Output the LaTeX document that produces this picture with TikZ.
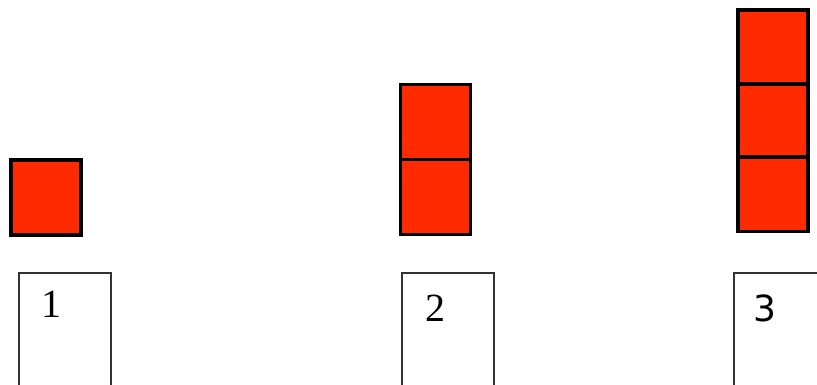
\documentclass[tikz,border=0pt]{standalone}
\usepackage{fontspec}
\setmainfont{Liberation Serif}
\newfontfamily\sansdigit{DejaVu Sans}
\definecolor{tilered}{RGB}{255,42,0}
\begin{document}
\begin{tikzpicture}[x=1pt,y=-1pt,
  tile/.style={draw=black, fill=tilered, line width=3.2pt, minimum width=70pt, inner sep=0pt, outer sep=0pt},
  labelbox/.style={draw=black!80, line width=1.7pt, fill=white, minimum width=92pt, minimum height=130pt, inner sep=0pt, anchor=north west},
  numtext/.style={font=\fontsize{40}{40}\selectfont, inner sep=0pt}]
\useasboundingbox (0,0) rectangle (817,385);
\clip (0,0) rectangle (817,385);
% column 1
\node[tile, minimum height=75pt] (a1) at (46,197.5) {};
% column 2
\node[tile, minimum height=75pt] (b1) at (435.5,197) {};
\node[tile, minimum height=75pt] (b2) at (435.5,122) {};
% column 3
\node[tile, minimum height=74pt] (c1) at (773,194.5) {};
\node[tile, minimum height=73pt] (c2) at (773,120.5) {};
\node[tile, minimum height=74pt] (c3) at (773,47) {};
% label boxes
\node[labelbox] (l1) at (18,272) {};
\node[labelbox] (l2) at (401,272) {};
\node[labelbox] (l3) at (733,272) {};
\node[numtext] (t1) at (51,304) {1};
\node[numtext] (t2) at (435,308) {2};
\node[numtext, font=\sansdigit\fontsize{36}{36}\selectfont] (t3) at (765,308) {3};
\end{tikzpicture}
\end{document}
